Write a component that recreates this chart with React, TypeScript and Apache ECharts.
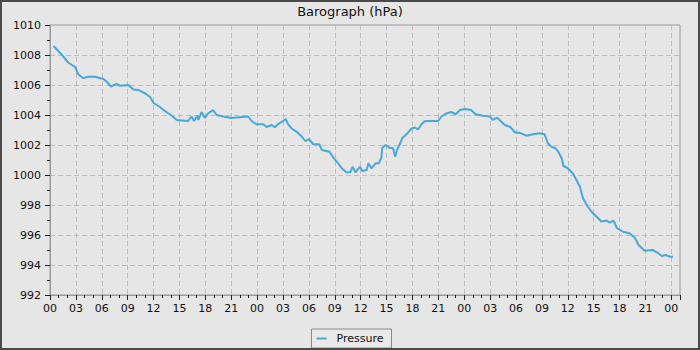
import React, { useEffect, useRef } from "react";
import * as echarts from "echarts";

const title = "Barograph (hPa)";
const seriesName = "Pressure";

// hours since the first midnight
const hours = [
  0.4, 0.96, 1.54, 2.1, 2.9, 3.3, 3.86, 4.4, 5.2, 6.2, 6.6, 7.06, 7.7, 8.1, 9.07, 9.65, 10.2, 11.0, 11.6, 12.0,
  12.7, 13.3, 14.0, 14.7, 16.0, 16.4, 16.7, 17.06, 17.2, 17.56, 17.95, 18.3, 18.9, 19.3, 20.07, 21.0, 21.96,
  22.96, 23.36, 23.9, 24.7, 25.1, 25.7, 26.06, 26.4, 27.0, 27.3, 27.6, 28.0, 28.6, 29.2, 29.6, 30.0, 30.5, 31.2,
  31.5, 32.4, 32.8, 33.4, 33.8, 34.36, 34.8, 35.06, 35.4, 35.9, 36.2, 36.7, 36.9, 37.25, 37.75, 38.1, 38.4, 38.5,
  38.9, 39.3, 39.76, 40.0, 40.2, 40.45, 40.85, 41.3, 41.9, 42.3, 42.65, 43.05, 43.4, 44.0, 44.97, 45.36, 45.9,
  46.5, 47.0, 47.5, 48.06, 48.8, 49.3, 50.2, 50.96, 51.3, 51.8, 52.1, 52.7, 53.3, 53.85, 54.6, 55.2, 55.97,
  56.75, 57.3, 57.7, 58.1, 58.6, 58.95, 59.3, 59.5, 60.0, 60.6, 61.0, 61.4, 61.76, 62.3, 62.9, 63.4, 63.9,
  64.5, 64.85, 65.3, 65.7, 66.4, 67.2, 67.8, 68.2, 68.9, 69.8, 70.4, 70.9, 71.35, 71.8, 72.2,
];

const pressure = [
  1008.6, 1008.27, 1007.9, 1007.5, 1007.2, 1006.7, 1006.45, 1006.55, 1006.55, 1006.4, 1006.2, 1005.9, 1006.07,
  1005.95, 1006.0, 1005.7, 1005.67, 1005.45, 1005.2, 1004.8, 1004.55, 1004.27, 1004.0, 1003.67, 1003.6, 1003.9,
  1003.6, 1003.95, 1003.67, 1004.2, 1003.8, 1004.1, 1004.33, 1004.0, 1003.9, 1003.8, 1003.85, 1003.9, 1003.6,
  1003.38, 1003.38, 1003.2, 1003.33, 1003.18, 1003.38, 1003.6, 1003.73, 1003.38, 1003.1, 1002.87, 1002.55,
  1002.25, 1002.4, 1002.05, 1002.05, 1001.67, 1001.55, 1001.18, 1000.78, 1000.45, 1000.18, 1000.18, 1000.55,
  1000.18, 1000.55, 1000.27, 1000.33, 1000.78, 1000.45, 1000.78, 1000.78, 1001.15, 1001.82, 1002.0, 1001.82,
  1001.78, 1001.22, 1001.67, 1001.95, 1002.49, 1002.71, 1003.1, 1003.17, 1003.03, 1003.38, 1003.58, 1003.6,
  1003.6, 1003.9, 1004.1, 1004.2, 1004.05, 1004.33, 1004.4, 1004.33, 1004.05, 1003.95, 1003.9, 1003.67, 1003.82,
  1003.67, 1003.33, 1003.22, 1002.85, 1002.78, 1002.62, 1002.71, 1002.78, 1002.72, 1002.1, 1001.88, 1001.78,
  1001.5, 1001.1, 1000.6, 1000.45, 1000.1, 999.67, 999.22, 998.45, 997.9, 997.45, 997.18, 996.9, 996.96, 996.82,
  996.96, 996.45, 996.22, 996.1, 995.78, 995.33, 994.95, 995.0, 994.82, 994.6, 994.67, 994.55, 994.55,
];

const yMin = 992;
const yMax = 1010;
const yStep = 2;
const xMin = 0;
const xMax = 73;
const xStep = 3;

const FONT = "DejaVu Sans";

export default function App() {
  const ref = useRef<HTMLDivElement>(null);

  useEffect(() => {
    document.body.style.margin = "0";
    if (!ref.current) return;
    const chart = echarts.init(ref.current, null, { renderer: "svg" });
    const data = hours.map((h, i) => [h, pressure[i]]);
    chart.setOption({
      animation: false,
      backgroundColor: "#e6e6e6",
      textStyle: { fontFamily: FONT },
      title: {
        text: title,
        left: "center",
        top: 5,
        padding: 0,
        textStyle: { fontFamily: FONT, fontSize: 13, fontWeight: "normal", color: "#111" },
      },
      legend: {
        bottom: 2,
        left: "center",
        data: [seriesName],
        icon: "rect",
        itemWidth: 10,
        itemHeight: 2,
        padding: [4, 8, 4, 5],
        borderColor: "#8a8a8a",
        borderWidth: 1,
        backgroundColor: "#e9e9e9",
        textStyle: { fontFamily: FONT, fontSize: 11, color: "#111", padding: [0, 0, 0, 5] },
      },
      grid: {
        left: 50,
        right: 20,
        top: 25,
        bottom: 55,
        show: true,
        borderColor: "#9a9a9a",
        borderWidth: 1,
        backgroundColor: "transparent",
      },
      xAxis: {
        type: "value",
        min: xMin,
        max: xMax,
        interval: xStep,
        axisLine: { show: true, lineStyle: { color: "#9a9a9a" } },
        axisTick: { show: true, length: 5, lineStyle: { color: "#222" } },
        minorTick: { show: true, splitNumber: 3, length: 3, lineStyle: { color: "#222" } },
        axisLabel: {
          margin: 8,
          fontFamily: FONT,
          fontSize: 11,
          color: "#111",
          showMaxLabel: false,
          formatter: (v: number) => (v % xStep === 0 ? String(v % 24).padStart(2, "0") : ""),
        },
        splitLine: { show: true, lineStyle: { color: "#bdbdbd", type: [5, 3], width: 1 } },
      },
      yAxis: {
        type: "value",
        min: yMin,
        max: yMax,
        interval: yStep,
        axisLine: { show: true, lineStyle: { color: "#9a9a9a" } },
        axisTick: { show: true, length: 5, lineStyle: { color: "#222" } },
        minorTick: { show: true, splitNumber: 2, length: 3, lineStyle: { color: "#222" } },
        axisLabel: {
          margin: 9,
          fontFamily: FONT,
          fontSize: 11,
          color: "#111",
          formatter: (v: number) => String(v),
        },
        splitLine: { show: true, lineStyle: { color: "#bdbdbd", type: [5, 3], width: 1 } },
      },
      series: [
        {
          name: seriesName,
          type: "line",
          data,
          showSymbol: false,
          symbol: "none",
          lineStyle: { color: "#4aa8d8", width: 2 },
          itemStyle: { color: "#4aa8d8" },
        },
      ],
      graphic: [
        {
          type: "rect",
          shape: { x: 1, y: 1, width: 698, height: 348 },
          style: { fill: "none", stroke: "#4a4a4a", lineWidth: 2 },
          silent: true,
          z: 100,
        },
      ],
    });
    return () => chart.dispose();
  }, []);

  return <div ref={ref} style={{ width: 700, height: 350 }} />;
}
